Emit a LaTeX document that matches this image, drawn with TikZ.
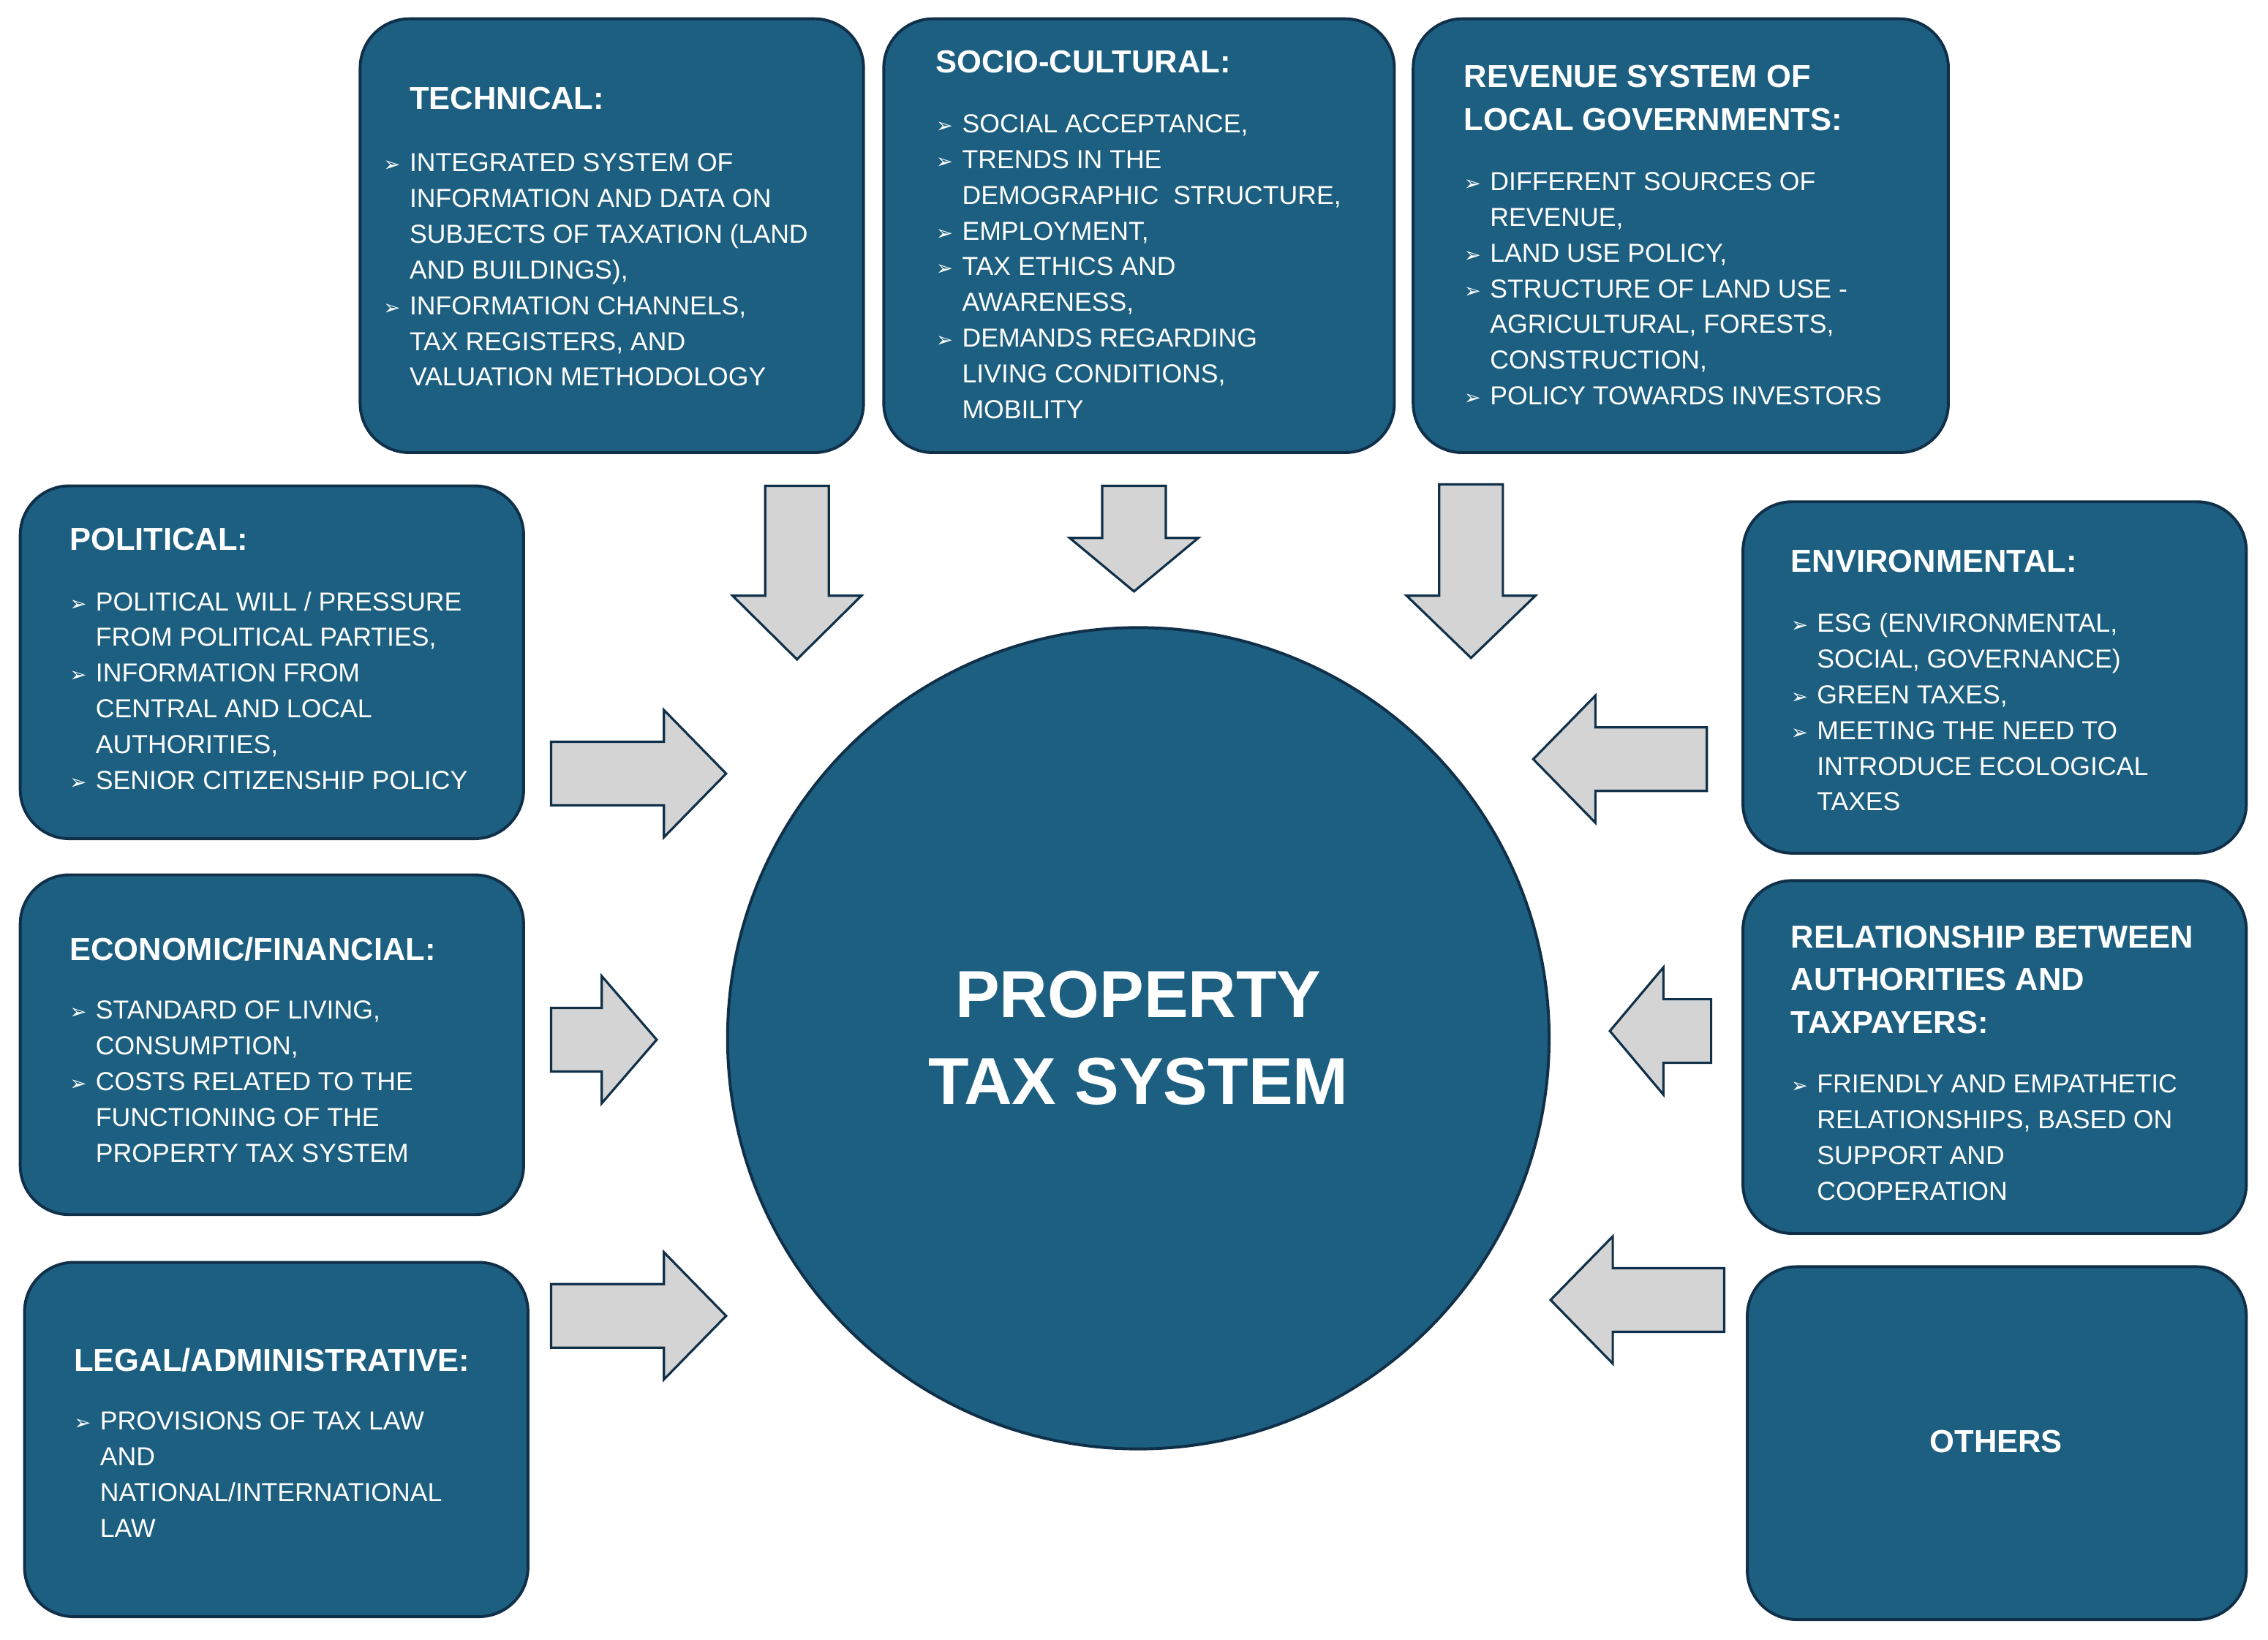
\documentclass[tikz,border=0pt]{standalone}
\usepackage{fontspec}
\setmainfont{Liberation Sans}
\newfontfamily\symf{DejaVu Sans}
\definecolor{boxblue}{HTML}{1C5F80}
\definecolor{boxedge}{HTML}{10304A}
\definecolor{arrgray}{HTML}{D4D4D4}
\newcommand\itm[1]{\makebox[18pt][l]{\symf\fontsize{14}{14}\selectfont ➢}#1}
\newcommand\cnt[1]{\hspace*{18pt}#1}
\tikzset{
  fbox/.style={draw=boxedge, line width=2pt, fill=boxblue, rounded corners=34pt},
  ttl/.style={anchor=north west, inner sep=0, text=white, align=left, font=\fontsize{22}{29.5}\selectfont\bfseries},
  items/.style={anchor=north west, inner sep=0, text=white, align=left, font=\fontsize{18}{24.7}\selectfont},
  garrow/.style={draw=boxedge, line width=1.6pt, fill=arrgray, line join=miter}
}
\newcommand\arrDown[4]{% x, ytop, yshaftend, ytip
  \draw[garrow] (#1-22,#2) -- (#1+22,#2) -- (#1+22,#3) -- (#1+44.5,#3) -- (#1,#4) -- (#1-44.5,#3) -- (#1-22,#3) -- cycle;}
\newcommand\arrRight[4]{% y, xstart, xshaftend, xtip
  \draw[garrow] (#2,#1-22) -- (#3,#1-22) -- (#3,#1-44) -- (#4,#1) -- (#3,#1+44) -- (#3,#1+22) -- (#2,#1+22) -- cycle;}
\begin{document}
\begin{tikzpicture}[x=1pt,y=-1pt]
\useasboundingbox (0,0) rectangle (1568,1134);
% boxes
\draw[fbox] (249,13) rectangle (597,313);
\draw[fbox] (611,13) rectangle (964,313);
\draw[fbox] (977,13) rectangle (1347,313);
\draw[fbox] (14,336) rectangle (362,580);
\draw[fbox] (14,605) rectangle (362,840);
\draw[fbox] (17,873) rectangle (365,1118);
\draw[fbox] (1205,347) rectangle (1553,590);
\draw[fbox] (1205,609) rectangle (1553,853);
\draw[fbox] (1208,876) rectangle (1553,1120);
% circle
\node[circle, draw=boxedge, line width=2pt, fill=boxblue, minimum size=568pt, inner sep=0] (core) at (787,718) {};
\node[text=white, align=center, font=\fontsize{46}{60}\selectfont\bfseries] (coret) at (787,718) {PROPERTY\\TAX SYSTEM};
% texts
\node[ttl] (t1) at (283,60) {TECHNICAL:};
\node[items] (i1) at (265,106) {\itm{INTEGRATED SYSTEM OF}\\\cnt{INFORMATION AND DATA ON}\\\cnt{SUBJECTS OF TAXATION (LAND}\\\cnt{AND BUILDINGS),}\\\itm{INFORMATION CHANNELS,}\\\cnt{TAX REGISTERS, AND}\\\cnt{VALUATION METHODOLOGY}};
\node[ttl] (t2) at (647,35) {SOCIO-CULTURAL:};
\node[items] (i2) at (647,79) {\itm{SOCIAL ACCEPTANCE,}\\\itm{TRENDS IN THE}\\\cnt{DEMOGRAPHIC\ \ STRUCTURE,}\\\itm{EMPLOYMENT,}\\\itm{TAX ETHICS AND}\\\cnt{AWARENESS,}\\\itm{DEMANDS REGARDING}\\\cnt{LIVING CONDITIONS,}\\\cnt{MOBILITY}};
\node[ttl] (t3) at (1012,45) {REVENUE SYSTEM OF\\LOCAL GOVERNMENTS:};
\node[items] (i3) at (1012,119) {\itm{DIFFERENT SOURCES OF}\\\cnt{REVENUE,}\\\itm{LAND USE POLICY,}\\\itm{STRUCTURE OF LAND USE -}\\\cnt{AGRICULTURAL, FORESTS,}\\\cnt{CONSTRUCTION,}\\\itm{POLICY TOWARDS INVESTORS}};
\node[ttl] (t4) at (48,365) {POLITICAL:};
\node[items] (i4) at (48,409) {\itm{POLITICAL WILL / PRESSURE}\\\cnt{FROM POLITICAL PARTIES,}\\\itm{INFORMATION FROM}\\\cnt{CENTRAL AND LOCAL}\\\cnt{AUTHORITIES,}\\\itm{SENIOR CITIZENSHIP POLICY}};
\node[ttl] (t5) at (48,648) {ECONOMIC/FINANCIAL:};
\node[items] (i5) at (48,692) {\itm{STANDARD OF LIVING,}\\\cnt{CONSUMPTION,}\\\itm{COSTS RELATED TO THE}\\\cnt{FUNCTIONING OF THE}\\\cnt{PROPERTY TAX SYSTEM}};
\node[ttl] (t6) at (51,932) {LEGAL/ADMINISTRATIVE:};
\node[items] (i6) at (51,976) {\itm{PROVISIONS OF TAX LAW}\\\cnt{AND}\\\cnt{NATIONAL/INTERNATIONAL}\\\cnt{LAW}};
\node[ttl] (t7) at (1238,380) {ENVIRONMENTAL:};
\node[items] (i7) at (1238,424) {\itm{ESG (ENVIRONMENTAL,}\\\cnt{SOCIAL, GOVERNANCE)}\\\itm{GREEN TAXES,}\\\itm{MEETING THE NEED TO}\\\cnt{INTRODUCE ECOLOGICAL}\\\cnt{TAXES}};
\node[ttl] (t8) at (1238,640) {RELATIONSHIP BETWEEN\\AUTHORITIES AND\\TAXPAYERS:};
\node[items] (i8) at (1238,743) {\itm{FRIENDLY AND EMPATHETIC}\\\cnt{RELATIONSHIPS, BASED ON}\\\cnt{SUPPORT AND}\\\cnt{COOPERATION}};
\node[text=white, inner sep=0, font=\fontsize{22}{24}\selectfont\bfseries] (t9) at (1380,997) {OTHERS};
% arrows
\arrDown{551}{336}{412}{456}
\arrDown{784}{336}{372}{409}
\arrDown{1017}{335}{412}{455}
\arrRight{535}{381}{459}{502}
\arrRight{719}{381}{416}{454}
\arrRight{910}{381}{459}{502}
\arrRight{525}{1180}{1103}{1060}
\arrRight{713}{1183}{1150}{1113}
\arrRight{899}{1192}{1115}{1072}
\end{tikzpicture}
\end{document}
